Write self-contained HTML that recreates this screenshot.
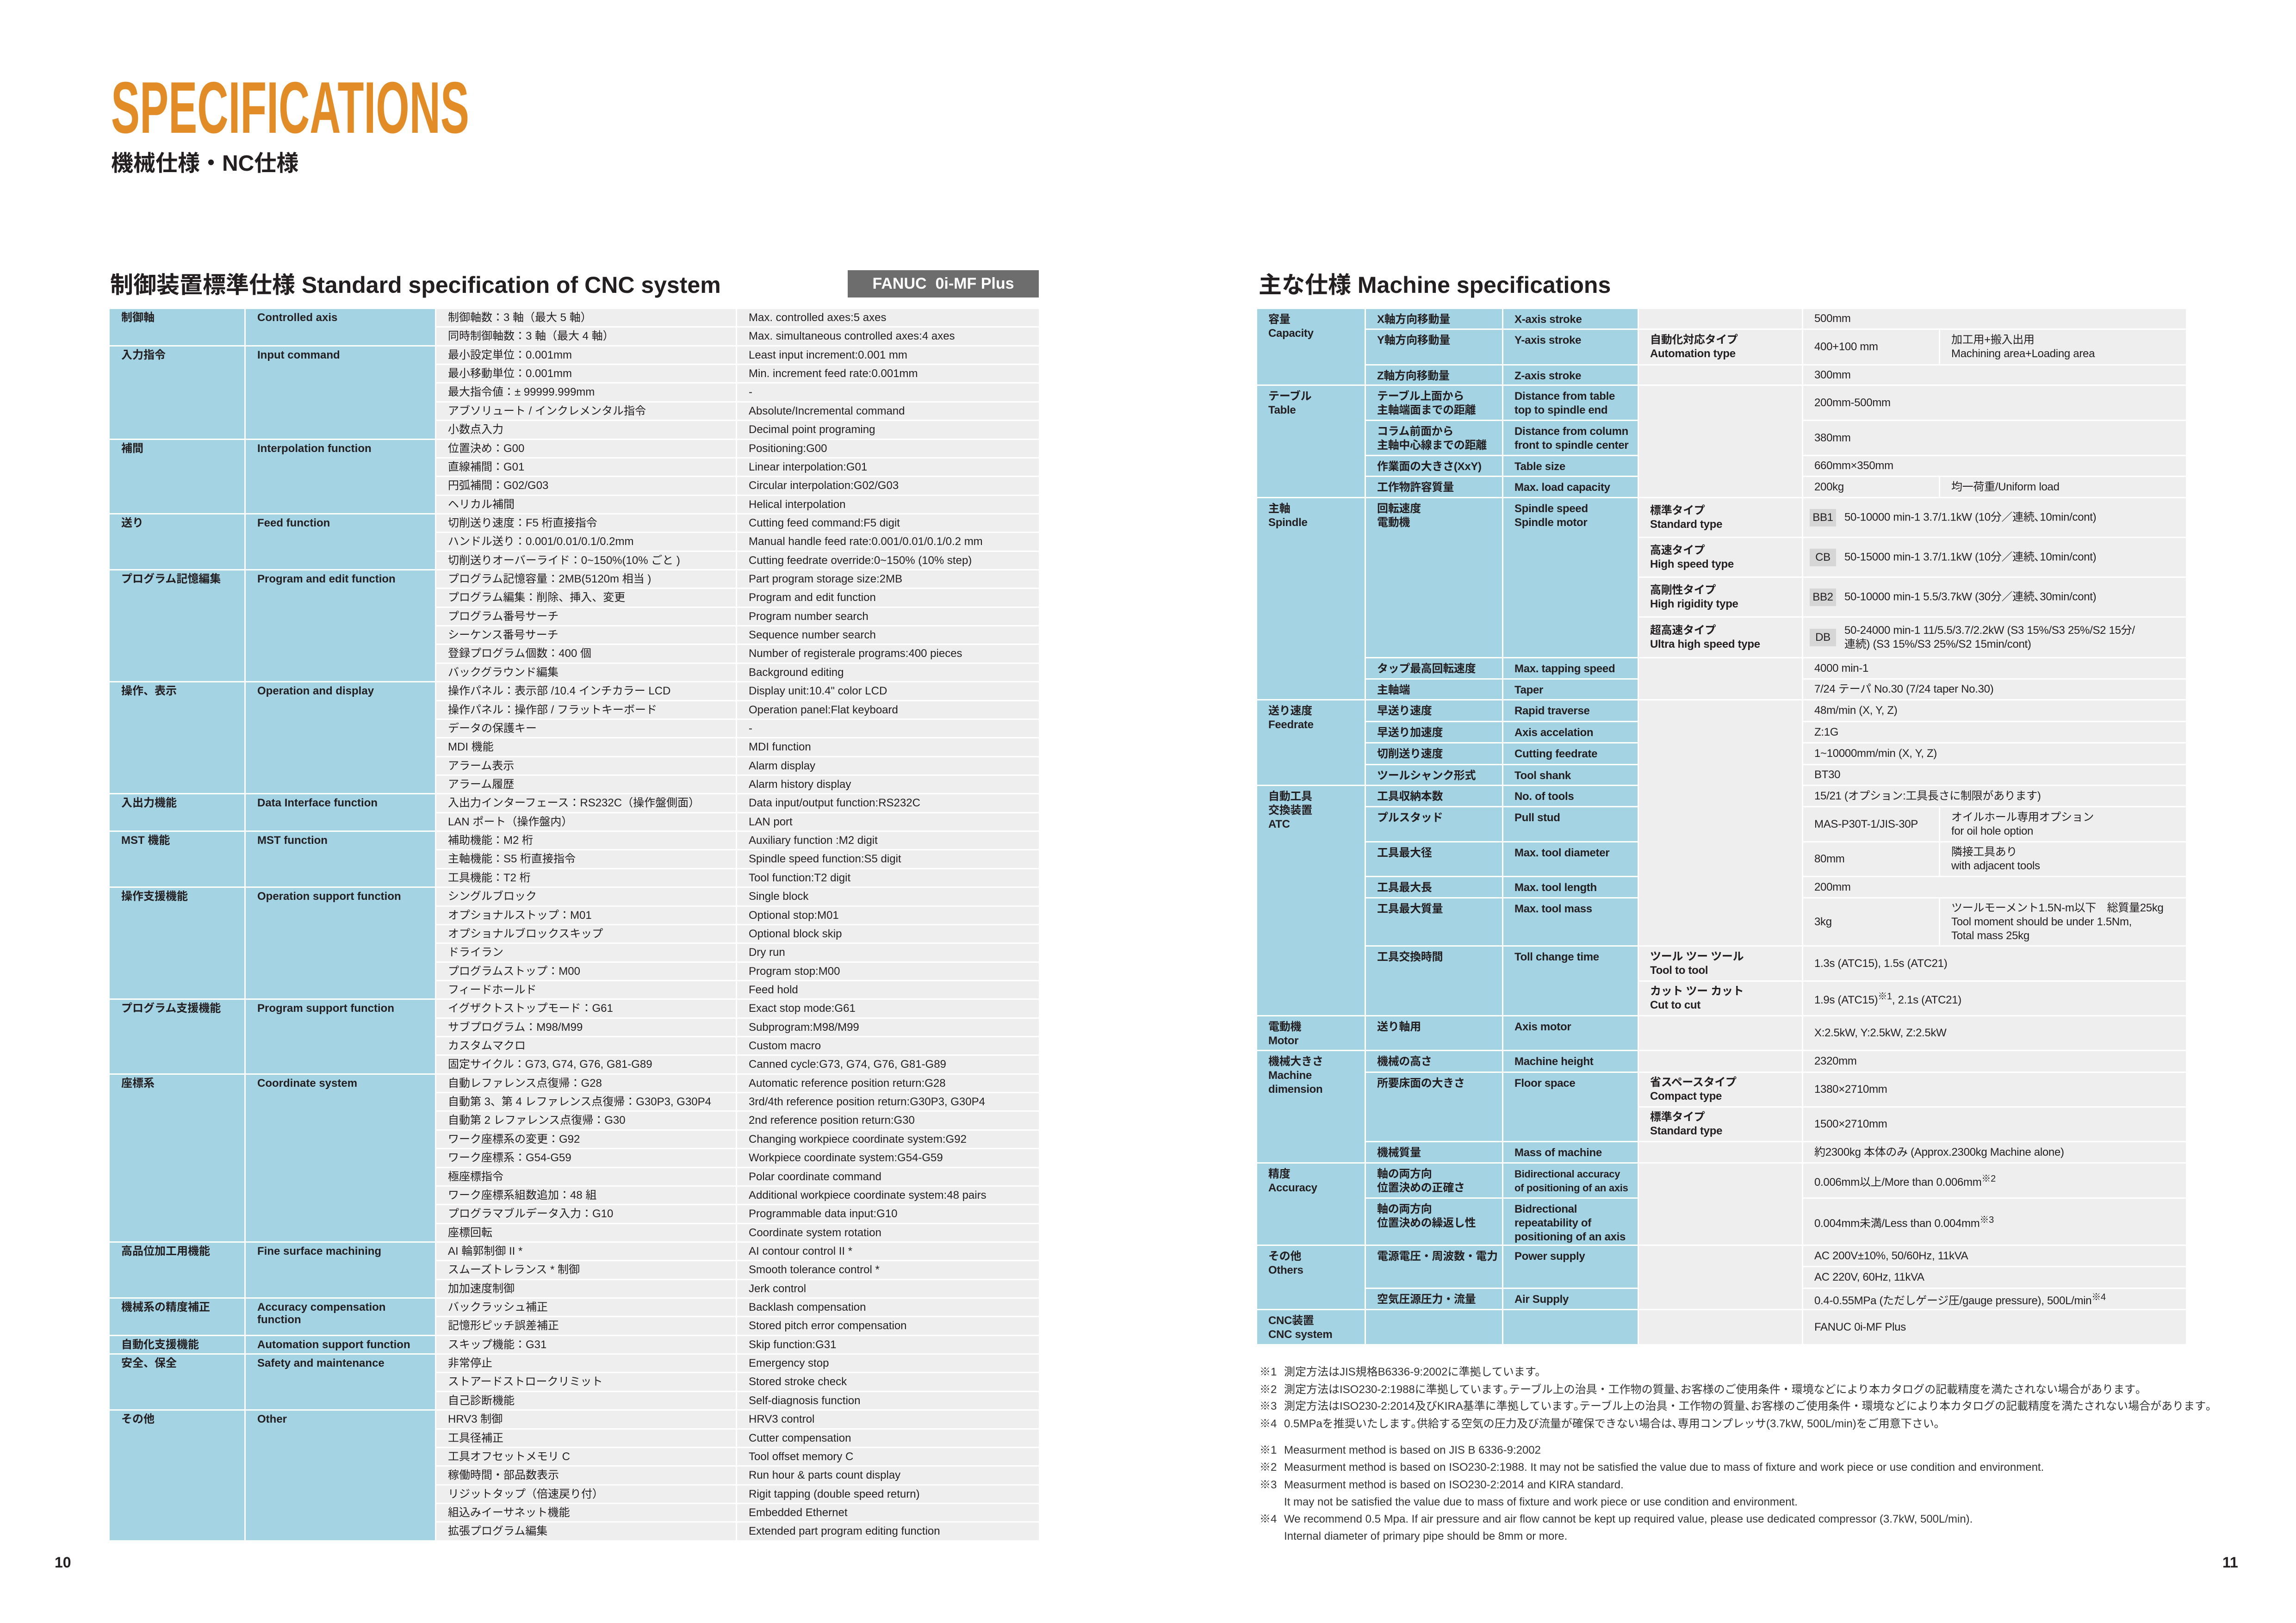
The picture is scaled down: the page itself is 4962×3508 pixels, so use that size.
<!DOCTYPE html>
<html><head><meta charset="utf-8">
<style>
*{margin:0;padding:0;box-sizing:border-box}
body{width:4962px;height:3508px;background:#fff;position:relative;overflow:hidden;font-family:"Liberation Sans","Noto Sans CJK JP",sans-serif;color:#231f20}
.abs{position:absolute;white-space:nowrap}
table{position:absolute;border-collapse:separate;border-spacing:0;table-layout:fixed}
td{border-right:3px solid #fff;border-bottom:3px solid #fff;white-space:nowrap;overflow:hidden}
.b{background:#a4d3e4}
.g{background:#eeeeee}
#lt td{font-size:24px;line-height:37px;padding:0 0 0 25px;vertical-align:top}
#lt td.b{font-weight:bold}
#lt tr{height:40.36px}
#rt td{font-size:24px;letter-spacing:-0.3px;line-height:30px;padding:0 0 0 24px}
#rt td.b{font-weight:bold;vertical-align:top;padding-top:8px}
#rt td.h{font-weight:bold;vertical-align:middle}
#rt td.v{vertical-align:middle}
.bd{display:inline-block;width:57px;height:38px;line-height:38px;text-align:center;background:#d6d6d6;margin:0 18px 0 14px;vertical-align:middle}
.fn{position:absolute;left:2722px;font-size:24px;line-height:36px;white-space:nowrap;color:#333}
.fn span{display:inline-block;width:53px}
</style></head><body>

<svg class="abs" style="left:0;top:0" width="1100" height="320">
<text x="240" y="287" font-family="Liberation Sans" font-weight="bold" font-size="158" fill="#e28c28" textLength="774" lengthAdjust="spacingAndGlyphs">SPECIFICATIONS</text>
</svg>
<div class="abs" style="left:240px;top:326px;font-size:48px;font-weight:bold;line-height:56px">機械仕様・NC仕様</div>

<div class="abs" style="left:238px;top:586px;font-size:50px;font-weight:bold;line-height:60px">制御装置標準仕様 Standard specification of CNC system</div>
<div class="abs" style="left:1832px;top:584px;width:413px;height:59px;background:#6d6d6d;color:#fff;font-size:34px;font-weight:bold;line-height:59px;text-align:center">FANUC&nbsp; 0i-MF Plus</div>

<div class="abs" style="left:2720px;top:586px;font-size:50px;font-weight:bold;line-height:60px">主な仕様 Machine specifications</div>

<table id="lt" style="left:237px;top:668px;width:2011px">
<colgroup><col style="width:294px"><col style="width:412px"><col style="width:650px"><col style="width:655px"></colgroup>
<tr><td class="b" rowspan="2">制御軸</td><td class="b" rowspan="2">Controlled axis</td><td class="g">制御軸数：3 軸（最大 5 軸）</td><td class="g">Max. controlled axes:5 axes</td></tr>
<tr><td class="g">同時制御軸数：3 軸（最大 4 軸）</td><td class="g">Max. simultaneous controlled axes:4 axes</td></tr>
<tr><td class="b" rowspan="5">入力指令</td><td class="b" rowspan="5">Input command</td><td class="g">最小設定単位：0.001mm</td><td class="g">Least input increment:0.001 mm</td></tr>
<tr><td class="g">最小移動単位：0.001mm</td><td class="g">Min. increment feed rate:0.001mm</td></tr>
<tr><td class="g">最大指令値：± 99999.999mm</td><td class="g">-</td></tr>
<tr><td class="g">アブソリュート / インクレメンタル指令</td><td class="g">Absolute/Incremental command</td></tr>
<tr><td class="g">小数点入力</td><td class="g">Decimal point programing</td></tr>
<tr><td class="b" rowspan="4">補間</td><td class="b" rowspan="4">Interpolation function</td><td class="g">位置決め：G00</td><td class="g">Positioning:G00</td></tr>
<tr><td class="g">直線補間：G01</td><td class="g">Linear interpolation:G01</td></tr>
<tr><td class="g">円弧補間：G02/G03</td><td class="g">Circular interpolation:G02/G03</td></tr>
<tr><td class="g">ヘリカル補間</td><td class="g">Helical interpolation</td></tr>
<tr><td class="b" rowspan="3">送り</td><td class="b" rowspan="3">Feed function</td><td class="g">切削送り速度：F5 桁直接指令</td><td class="g">Cutting feed command:F5 digit</td></tr>
<tr><td class="g">ハンドル送り：0.001/0.01/0.1/0.2mm</td><td class="g">Manual handle feed rate:0.001/0.01/0.1/0.2 mm</td></tr>
<tr><td class="g">切削送りオーバーライド：0~150%(10% ごと )</td><td class="g">Cutting feedrate override:0~150% (10% step)</td></tr>
<tr><td class="b" rowspan="6">プログラム記憶編集</td><td class="b" rowspan="6">Program and edit function</td><td class="g">プログラム記憶容量：2MB(5120m 相当 )</td><td class="g">Part program storage size:2MB</td></tr>
<tr><td class="g">プログラム編集：削除、挿入、変更</td><td class="g">Program and edit function</td></tr>
<tr><td class="g">プログラム番号サーチ</td><td class="g">Program number search</td></tr>
<tr><td class="g">シーケンス番号サーチ</td><td class="g">Sequence number search</td></tr>
<tr><td class="g">登録プログラム個数：400 個</td><td class="g">Number of registerale programs:400 pieces</td></tr>
<tr><td class="g">バックグラウンド編集</td><td class="g">Background editing</td></tr>
<tr><td class="b" rowspan="6">操作、表示</td><td class="b" rowspan="6">Operation and display</td><td class="g">操作パネル：表示部 /10.4 インチカラー LCD</td><td class="g">Display unit:10.4" color LCD</td></tr>
<tr><td class="g">操作パネル：操作部 / フラットキーボード</td><td class="g">Operation panel:Flat keyboard</td></tr>
<tr><td class="g">データの保護キー</td><td class="g">-</td></tr>
<tr><td class="g">MDI 機能</td><td class="g">MDI function</td></tr>
<tr><td class="g">アラーム表示</td><td class="g">Alarm display</td></tr>
<tr><td class="g">アラーム履歴</td><td class="g">Alarm history display</td></tr>
<tr><td class="b" rowspan="2">入出力機能</td><td class="b" rowspan="2">Data Interface function</td><td class="g">入出力インターフェース：RS232C（操作盤側面）</td><td class="g">Data input/output function:RS232C</td></tr>
<tr><td class="g">LAN ポート（操作盤内）</td><td class="g">LAN port</td></tr>
<tr><td class="b" rowspan="3">MST 機能</td><td class="b" rowspan="3">MST function</td><td class="g">補助機能：M2 桁</td><td class="g">Auxiliary function :M2 digit</td></tr>
<tr><td class="g">主軸機能：S5 桁直接指令</td><td class="g">Spindle speed function:S5 digit</td></tr>
<tr><td class="g">工具機能：T2 桁</td><td class="g">Tool function:T2 digit</td></tr>
<tr><td class="b" rowspan="6">操作支援機能</td><td class="b" rowspan="6">Operation support function</td><td class="g">シングルブロック</td><td class="g">Single block</td></tr>
<tr><td class="g">オプショナルストップ：M01</td><td class="g">Optional stop:M01</td></tr>
<tr><td class="g">オプショナルブロックスキップ</td><td class="g">Optional block skip</td></tr>
<tr><td class="g">ドライラン</td><td class="g">Dry run</td></tr>
<tr><td class="g">プログラムストップ：M00</td><td class="g">Program stop:M00</td></tr>
<tr><td class="g">フィードホールド</td><td class="g">Feed hold</td></tr>
<tr><td class="b" rowspan="4">プログラム支援機能</td><td class="b" rowspan="4">Program support function</td><td class="g">イグザクトストップモード：G61</td><td class="g">Exact stop mode:G61</td></tr>
<tr><td class="g">サブプログラム：M98/M99</td><td class="g">Subprogram:M98/M99</td></tr>
<tr><td class="g">カスタムマクロ</td><td class="g">Custom macro</td></tr>
<tr><td class="g">固定サイクル：G73, G74, G76, G81-G89</td><td class="g">Canned cycle:G73, G74, G76, G81-G89</td></tr>
<tr><td class="b" rowspan="9">座標系</td><td class="b" rowspan="9">Coordinate system</td><td class="g">自動レファレンス点復帰：G28</td><td class="g">Automatic reference position return:G28</td></tr>
<tr><td class="g">自動第 3、第 4 レファレンス点復帰：G30P3, G30P4</td><td class="g">3rd/4th reference position return:G30P3, G30P4</td></tr>
<tr><td class="g">自動第 2 レファレンス点復帰：G30</td><td class="g">2nd reference position return:G30</td></tr>
<tr><td class="g">ワーク座標系の変更：G92</td><td class="g">Changing workpiece coordinate system:G92</td></tr>
<tr><td class="g">ワーク座標系：G54-G59</td><td class="g">Workpiece coordinate system:G54-G59</td></tr>
<tr><td class="g">極座標指令</td><td class="g">Polar coordinate command</td></tr>
<tr><td class="g">ワーク座標系組数追加：48 組</td><td class="g">Additional workpiece coordinate system:48 pairs</td></tr>
<tr><td class="g">プログラマブルデータ入力：G10</td><td class="g">Programmable data input:G10</td></tr>
<tr><td class="g">座標回転</td><td class="g">Coordinate system rotation</td></tr>
<tr><td class="b" rowspan="3">高品位加工用機能</td><td class="b" rowspan="3">Fine surface machining</td><td class="g">AI 輪郭制御 II *</td><td class="g">AI contour control II *</td></tr>
<tr><td class="g">スムーズトレランス * 制御</td><td class="g">Smooth tolerance control *</td></tr>
<tr><td class="g">加加速度制御</td><td class="g">Jerk control</td></tr>
<tr><td class="b" rowspan="2">機械系の精度補正</td><td class="b" rowspan="2" style="line-height:27px;padding-top:5px">Accuracy compensation<br>function</td><td class="g">バックラッシュ補正</td><td class="g">Backlash compensation</td></tr>
<tr><td class="g">記憶形ピッチ誤差補正</td><td class="g">Stored pitch error compensation</td></tr>
<tr><td class="b">自動化支援機能</td><td class="b">Automation support function</td><td class="g">スキップ機能：G31</td><td class="g">Skip function:G31</td></tr>
<tr><td class="b" rowspan="3">安全、保全</td><td class="b" rowspan="3">Safety and maintenance</td><td class="g">非常停止</td><td class="g">Emergency stop</td></tr>
<tr><td class="g">ストアードストロークリミット</td><td class="g">Stored stroke check</td></tr>
<tr><td class="g">自己診断機能</td><td class="g">Self-diagnosis function</td></tr>
<tr><td class="b" rowspan="7">その他</td><td class="b" rowspan="7">Other</td><td class="g">HRV3 制御</td><td class="g">HRV3 control</td></tr>
<tr><td class="g">工具径補正</td><td class="g">Cutter compensation</td></tr>
<tr><td class="g">工具オフセットメモリ C</td><td class="g">Tool offset memory C</td></tr>
<tr><td class="g">稼働時間・部品数表示</td><td class="g">Run hour &amp; parts count display</td></tr>
<tr><td class="g">リジットタップ（倍速戻り付）</td><td class="g">Rigit tapping (double speed return)</td></tr>
<tr><td class="g">組込みイーサネット機能</td><td class="g">Embedded Ethernet</td></tr>
<tr><td class="g">拡張プログラム編集</td><td class="g">Extended part program editing function</td></tr>
</table>

<table id="rt" style="left:2717px;top:668px;width:2010px">
<colgroup><col style="width:235px"><col style="width:297px"><col style="width:293px"><col style="width:355px"><col style="width:296px"><col style="width:534px"></colgroup>
<tr style="height:45px"><td class="b" rowspan="3">容量<br>Capacity</td><td class="b">X軸方向移動量</td><td class="b">X-axis stroke</td><td class="g"></td><td class="g v" colspan="2">500mm</td></tr>
<tr style="height:77px"><td class="b">Y軸方向移動量</td><td class="b">Y-axis stroke</td><td class="g h">自動化対応タイプ<br>Automation type</td><td class="g v">400+100 mm</td><td class="g v">加工用+搬入出用<br>Machining area+Loading area</td></tr>
<tr style="height:44px"><td class="b">Z軸方向移動量</td><td class="b">Z-axis stroke</td><td class="g"></td><td class="g v" colspan="2">300mm</td></tr>
<tr style="height:76px"><td class="b" rowspan="4">テーブル<br>Table</td><td class="b">テーブル上面から<br>主軸端面までの距離</td><td class="b">Distance from table<br>top to spindle end</td><td class="g" rowspan="4"></td><td class="g v" colspan="2">200mm-500mm</td></tr>
<tr style="height:76px"><td class="b">コラム前面から<br>主軸中心線までの距離</td><td class="b">Distance from column<br>front to spindle center</td><td class="g v" colspan="2">380mm</td></tr>
<tr style="height:45px"><td class="b">作業面の大きさ(XxY)</td><td class="b">Table size</td><td class="g v" colspan="2">660mm×350mm</td></tr>
<tr style="height:46px"><td class="b">工作物許容質量</td><td class="b">Max. load capacity</td><td class="g v">200kg</td><td class="g v">均一荷重/Uniform load</td></tr>
<tr style="height:86px"><td class="b" rowspan="6">主軸<br>Spindle</td><td class="b" rowspan="4">回転速度<br>電動機</td><td class="b" rowspan="4">Spindle speed<br>Spindle motor</td><td class="g h">標準タイプ<br>Standard type</td><td class="g v" colspan="2" style="padding-left:0"><span class="bd">BB1</span>50-10000 min-1 3.7/1.1kW (10分／連続､10min/cont)</td></tr>
<tr style="height:86px"><td class="g h">高速タイプ<br>High speed type</td><td class="g v" colspan="2" style="padding-left:0"><span class="bd">CB</span>50-15000 min-1 3.7/1.1kW (10分／連続､10min/cont)</td></tr>
<tr style="height:86px"><td class="g h">高剛性タイプ<br>High rigidity type</td><td class="g v" colspan="2" style="padding-left:0"><span class="bd">BB2</span>50-10000 min-1 5.5/3.7kW (30分／連続､30min/cont)</td></tr>
<tr style="height:88px"><td class="g h">超高速タイプ<br>Ultra high speed type</td><td class="g v" colspan="2" style="padding-left:0"><div style="display:flex;align-items:center"><span class="bd">DB</span><div>50-24000 min-1 11/5.5/3.7/2.2kW (S3 15%/S3 25%/S2 15分/<br>連続) (S3 15%/S3 25%/S2 15min/cont)</div></div></td></tr>
<tr style="height:46px"><td class="b">タップ最高回転速度</td><td class="b">Max. tapping speed</td><td class="g" rowspan="2"></td><td class="g v" colspan="2">4000 min-1</td></tr>
<tr style="height:45px"><td class="b">主軸端</td><td class="b">Taper</td><td class="g v" colspan="2">7/24 テーパ No.30 (7/24 taper No.30)</td></tr>
<tr style="height:47px"><td class="b" rowspan="4">送り速度<br>Feedrate</td><td class="b">早送り速度</td><td class="b">Rapid traverse</td><td class="g" rowspan="9"></td><td class="g v" colspan="2">48m/min (X, Y, Z)</td></tr>
<tr style="height:46px"><td class="b">早送り加速度</td><td class="b">Axis accelation</td><td class="g v" colspan="2">Z:1G</td></tr>
<tr style="height:47px"><td class="b">切削送り速度</td><td class="b">Cutting feedrate</td><td class="g v" colspan="2">1~10000mm/min (X, Y, Z)</td></tr>
<tr style="height:45px"><td class="b">ツールシャンク形式</td><td class="b">Tool shank</td><td class="g v" colspan="2">BT30</td></tr>
<tr style="height:46px"><td class="b" rowspan="7">自動工具<br>交換装置<br>ATC</td><td class="b">工具収納本数</td><td class="b">No. of tools</td><td class="g v" colspan="2">15/21 (オプション:工具長さに制限があります)</td></tr>
<tr style="height:76px"><td class="b">プルスタッド</td><td class="b">Pull stud</td><td class="g v">MAS-P30T-1/JIS-30P</td><td class="g v">オイルホール専用オプション<br>for oil hole option</td></tr>
<tr style="height:75px"><td class="b">工具最大径</td><td class="b">Max. tool diameter</td><td class="g v">80mm</td><td class="g v">隣接工具あり<br>with adjacent tools</td></tr>
<tr style="height:46px"><td class="b">工具最大長</td><td class="b">Max. tool length</td><td class="g v" colspan="2">200mm</td></tr>
<tr style="height:104px"><td class="b">工具最大質量</td><td class="b">Max. tool mass</td><td class="g v">3kg</td><td class="g v">ツールモーメント1.5N-m以下　総質量25kg<br>Tool moment should be under 1.5Nm,<br>Total mass 25kg</td></tr>
<tr style="height:76px"><td class="b" rowspan="2">工具交換時間</td><td class="b" rowspan="2">Toll change time</td><td class="g h">ツール ツー ツール<br>Tool to tool</td><td class="g v" colspan="2">1.3s (ATC15), 1.5s (ATC21)</td></tr>
<tr style="height:75px"><td class="g h">カット ツー カット<br>Cut to cut</td><td class="g v" colspan="2">1.9s (ATC15)<sup>※1</sup>, 2.1s (ATC21)</td></tr>
<tr style="height:75px"><td class="b">電動機<br>Motor</td><td class="b">送り軸用</td><td class="b">Axis motor</td><td class="g"></td><td class="g v" colspan="2">X:2.5kW, Y:2.5kW, Z:2.5kW</td></tr>
<tr style="height:47px"><td class="b" rowspan="4">機械大きさ<br>Machine<br>dimension</td><td class="b">機械の高さ</td><td class="b">Machine height</td><td class="g"></td><td class="g v" colspan="2">2320mm</td></tr>
<tr style="height:75px"><td class="b" rowspan="2">所要床面の大きさ</td><td class="b" rowspan="2">Floor space</td><td class="g h">省スペースタイプ<br>Compact type</td><td class="g v" colspan="2">1380×2710mm</td></tr>
<tr style="height:75px"><td class="g h">標準タイプ<br>Standard type</td><td class="g v" colspan="2">1500×2710mm</td></tr>
<tr style="height:46px"><td class="b">機械質量</td><td class="b">Mass of machine</td><td class="g"></td><td class="g v" colspan="2">約2300kg 本体のみ (Approx.2300kg Machine alone)</td></tr>
<tr style="height:76px"><td class="b" rowspan="2">精度<br>Accuracy</td><td class="b">軸の両方向<br>位置決めの正確さ</td><td class="b" style="font-size:22px">Bidirectional accuracy<br>of positioning of an axis</td><td class="g" rowspan="2"></td><td class="g v" colspan="2">0.006mm以上/More than 0.006mm<sup>※2</sup></td></tr>
<tr style="height:102px"><td class="b">軸の両方向<br>位置決めの繰返し性</td><td class="b">Bidrectional<br>repeatability of<br>positioning of an axis</td><td class="g v" colspan="2">0.004mm未満/Less than 0.004mm<sup>※3</sup></td></tr>
<tr style="height:46px"><td class="b" rowspan="3">その他<br>Others</td><td class="b" rowspan="2">電源電圧・周波数・電力</td><td class="b" rowspan="2">Power supply</td><td class="g" rowspan="3"></td><td class="g v" colspan="2">AC 200V±10%, 50/60Hz, 11kVA</td></tr>
<tr style="height:47px"><td class="g v" colspan="2">AC 220V, 60Hz, 11kVA</td></tr>
<tr style="height:46px"><td class="b">空気圧源圧力・流量</td><td class="b">Air Supply</td><td class="g v" colspan="2">0.4-0.55MPa (ただしゲージ圧/gauge pressure), 500L/min<sup>※4</sup></td></tr>
<tr style="height:76px"><td class="b">CNC装置<br>CNC system</td><td class="b"></td><td class="b"></td><td class="g"></td><td class="g v" colspan="2">FANUC 0i-MF Plus</td></tr>
</table>

<div class="fn" style="top:2948px"><span>※1</span>測定方法はJIS規格B6336-9:2002に準拠しています。</div>
<div class="fn" style="top:2986px"><span>※2</span>測定方法はISO230-2:1988に準拠しています｡テーブル上の治具・工作物の質量､お客様のご使用条件・環境などにより本カタログの記載精度を満たされない場合があります｡</div>
<div class="fn" style="top:3022px"><span>※3</span>測定方法はISO230-2:2014及びKIRA基準に準拠しています｡テーブル上の治具・工作物の質量､お客様のご使用条件・環境などにより本カタログの記載精度を満たされない場合があります｡</div>
<div class="fn" style="top:3060px"><span>※4</span>0.5MPaを推奨いたします｡供給する空気の圧力及び流量が確保できない場合は､専用コンプレッサ(3.7kW, 500L/min)をご用意下さい｡</div>
<div class="fn" style="top:3117px"><span>※1</span>Measurment method is based on JIS B 6336-9:2002</div>
<div class="fn" style="top:3154px"><span>※2</span>Measurment method is based on ISO230-2:1988. It may not be satisfied the value due to mass of fixture and work piece or use condition and environment.</div>
<div class="fn" style="top:3192px"><span>※3</span>Measurment method is based on ISO230-2:2014 and KIRA standard.</div>
<div class="fn" style="top:3229px"><span></span>It may not be satisfied the value due to mass of fixture and work piece or use condition and environment.</div>
<div class="fn" style="top:3266px"><span>※4</span>We recommend 0.5 Mpa. If air pressure and air flow cannot be kept up required value, please use dedicated compressor (3.7kW, 500L/min).</div>
<div class="fn" style="top:3303px"><span></span>Internal diameter of primary pipe should be 8mm or more.</div>

<div class="abs" style="left:118px;top:3358px;font-size:32px;font-weight:bold;line-height:38px">10</div>
<div class="abs" style="left:4803px;top:3358px;font-size:32px;font-weight:bold;line-height:38px">11</div>
</body></html>
